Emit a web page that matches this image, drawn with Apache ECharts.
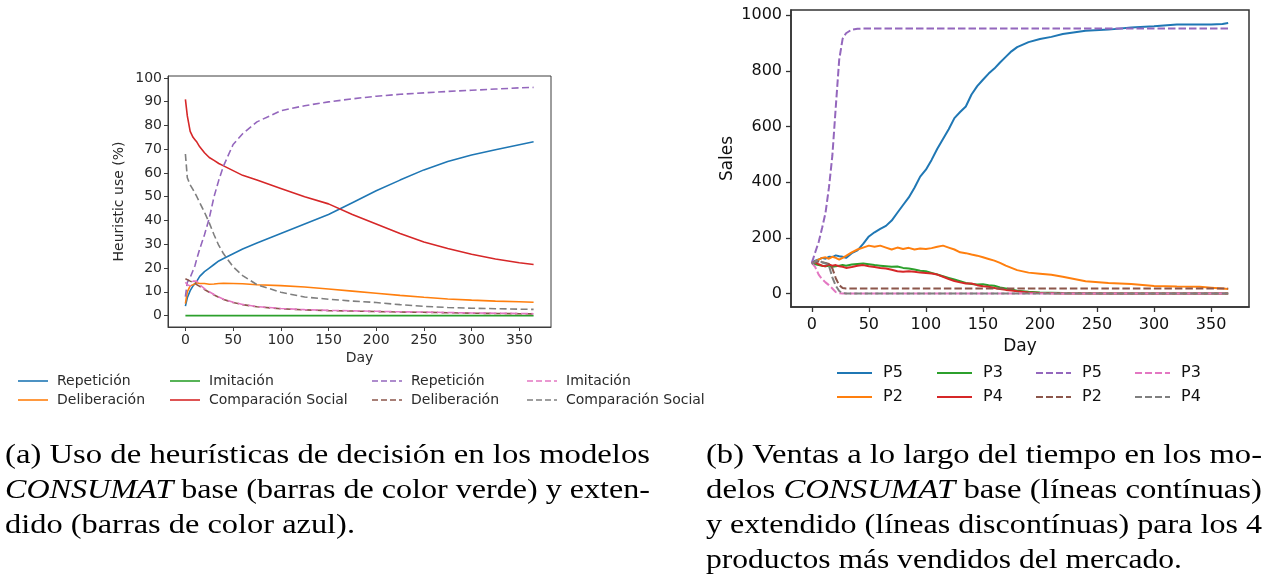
<!DOCTYPE html>
<html>
<head>
<meta charset="utf-8">
<script src="https://cdn.jsdelivr.net/npm/echarts@6/dist/echarts.min.js"></script>
<style>
html, body { margin: 0; padding: 0; background: #ffffff; }
#chart { width: 1273px; height: 580px; }
</style>
</head>
<body>
<div id="chart"></div>
<script>
// ---- (a) heuristic use, percent of agents per day ----
const heurDays = [0, 2, 5, 8, 10, 12, 15, 20, 25, 30, 35, 40, 50, 60, 75, 100, 125, 150, 175, 200, 225, 250, 275, 300, 325, 350, 365];
const heurBaseRepeticion = [4, 7.5, 10.5, 12.5, 13.5, 14.5, 16.5, 18.5, 20, 21.5, 23, 24, 26, 28, 30.5, 34.5, 38.5, 42.5, 47.5, 52.5, 57, 61.3, 64.8, 67.6, 69.8, 71.9, 73.1];
const heurBaseDeliberacion = [5, 10, 12.5, 13, 13.5, 13.8, 13.5, 13.5, 13.2, 13.3, 13.5, 13.6, 13.5, 13.4, 13, 12.6, 12, 11.2, 10.3, 9.4, 8.5, 7.7, 7, 6.5, 6.1, 5.8, 5.6];
const heurBaseImitacion = [0, 0, 0, 0, 0, 0, 0, 0, 0, 0, 0, 0, 0, 0, 0, 0, 0, 0, 0, 0, 0, 0, 0, 0, 0, 0, 0];
const heurBaseComparacion = [91, 84, 77.5, 75, 74, 73, 71, 68.5, 66.5, 65.3, 64, 63, 61, 59, 57, 53.5, 50, 47, 42.5, 38.5, 34.5, 31, 28.2, 25.8, 23.8, 22.2, 21.5];
const heurExtRepeticion = [8, 14, 16, 19, 21, 24, 28, 34, 41, 50, 57, 63, 72, 76.5, 81.5, 86.2, 88.3, 89.9, 91.2, 92.3, 93.1, 93.7, 94.3, 94.8, 95.3, 95.8, 96];
const heurExtDeliberacion = [15.5, 15, 14.5, 14, 13.5, 13, 12.3, 11, 9.8, 8.7, 7.7, 6.8, 5.5, 4.6, 3.7, 2.9, 2.4, 2.1, 1.9, 1.7, 1.5, 1.4, 1.2, 1.0, 0.9, 0.8, 0.7];
const heurExtImitacion = [14, 13, 12.5, 14.5, 15, 14.5, 13, 11.3, 10, 8.9, 7.8, 6.9, 5.6, 4.7, 3.8, 3.0, 2.5, 2.2, 2.0, 1.8, 1.6, 1.5, 1.3, 1.1, 1.0, 0.9, 0.8];
const heurExtComparacion = [68, 58, 55, 53, 51.5, 50, 47.5, 43.5, 39, 34, 29.5, 26, 20.5, 16.8, 13, 9.8, 7.8, 6.9, 6.1, 5.5, 4.6, 3.9, 3.4, 3.1, 2.9, 2.7, 2.6];

// ---- (b) daily sales of the four best-selling products ----
const salesDays = [0, 3, 6, 9, 12, 15, 18, 21, 24, 27, 30,
  35, 40, 45, 50, 55, 60, 65, 70, 75, 80, 85, 90, 95, 100, 105, 110, 115, 120, 125, 130,
  135, 140, 145, 150, 155, 160, 165, 170, 175, 180,
  190, 200, 210, 220, 240, 260, 280, 300, 320, 340, 350, 360, 365];
const salesBaseP5 = [110, 118, 122, 128, 125, 132, 131, 137, 134, 132, 128,
  145, 155, 178, 205, 220, 232, 243, 262, 290, 318, 345, 380, 420, 445, 480, 520, 555, 590, 630, 652,
  672, 715, 745, 768, 790, 808, 830, 850, 870, 885,
  903, 914, 922, 932, 944, 948, 956, 960, 966, 966, 966, 968, 972];
const salesBaseP2 = [110, 115, 122, 128, 130, 125, 132, 128, 122, 128, 135,
  148, 158, 165, 172, 168, 172, 165, 158, 165, 160, 164, 158, 162, 160, 163, 168, 172, 165, 158, 148,
  145, 140, 136, 130, 124, 118, 110, 100, 92, 84,
  75, 71, 67, 60, 44, 38, 34, 27, 25, 24, 21, 18, 16];
const salesBaseP3 = [110, 105, 102, 100, 98, 100, 96, 98, 100, 102, 100,
  104, 106, 108, 105, 102, 100, 98, 96, 97, 92, 90, 86, 82, 80, 74, 68, 62, 56, 50, 44,
  38, 34, 32, 33, 30, 28, 22, 18, 14, 10,
  6, 4, 3, 2, 1, 0, 0, 0, 0, 0, 0, 0, 0];
const salesBaseP4 = [110, 112, 105, 100, 98, 104, 100, 102, 98, 96, 92,
  95, 100, 102, 98, 95, 92, 90, 85, 80, 78, 80, 78, 75, 74, 72, 68, 60, 52, 45, 40,
  36, 36, 30, 26, 24, 20, 16, 13, 11, 8,
  4, 2, 1, 0, 0, 0, 0, 0, 0, 0, 0, 0, 0];
const salesExtP5 = [110, 148, 185, 235, 290, 380, 495, 670, 840, 915, 935,
  948, 951, 952, 952, 952, 952, 952, 952, 952, 952, 952, 952, 952, 952, 952, 952, 952, 952, 952, 952,
  952, 952, 952, 952, 952, 952, 952, 952, 952, 952,
  952, 952, 952, 952, 952, 952, 952, 952, 952, 952, 952, 952, 952];
const salesExtP2 = [110, 112, 115, 112, 110, 106, 90, 55, 30, 20, 18,
  18, 18, 18, 18, 18, 18, 18, 18, 18, 18, 18, 18, 18, 18, 18, 18, 18, 18, 18, 18,
  18, 18, 18, 18, 18, 18, 18, 18, 18, 18,
  18, 18, 18, 18, 18, 18, 18, 18, 18, 18, 18, 18, 18];
const salesExtP3 = [110, 95, 68, 52, 40, 30, 18, 5, 1, 0, 0,
  0, 0, 0, 0, 0, 0, 0, 0, 0, 0, 0, 0, 0, 0, 0, 0, 0, 0, 0, 0,
  0, 0, 0, 0, 0, 0, 0, 0, 0, 0,
  0, 0, 0, 0, 0, 0, 0, 0, 0, 0, 0, 0, 0];
const salesExtP4 = [105, 115, 120, 112, 108, 100, 58, 28, 9, 2, 0,
  0, 0, 0, 0, 0, 0, 0, 0, 0, 0, 0, 0, 0, 0, 0, 0, 0, 0, 0, 0,
  0, 0, 0, 0, 0, 0, 0, 0, 0, 0,
  0, 0, 0, 0, 0, 0, 0, 0, 0, 0, 0, 0, 0];

// ---- tick labels ----
const dayTicks = [0, 50, 100, 150, 200, 250, 300, 350];
const heurTicks = [0, 10, 20, 30, 40, 50, 60, 70, 80, 90, 100];
const salesTicks = [0, 200, 400, 600, 800, 1000];

// ---- captions (runs of [text, style]; 'i' = italic) ----
const captionA = [
  [['(a) Uso de heurísticas de decisión en los modelos', 'n']],
  [['CONSUMAT', 'i'], [' base (barras de color verde) y exten-', 'n']],
  [['dido (barras de color azul).', 'n']]
];
const captionB = [
  [['(b) Ventas a lo largo del tiempo en los mo-', 'n']],
  [['delos ', 'n'], ['CONSUMAT', 'i'], [' base (líneas contínuas)', 'n']],
  [['y extendido (líneas discontínuas) para los 4', 'n']],
  [['productos más vendidos del mercado.', 'n']]
];

const C = {
  blue: '#1f77b4', orange: '#ff7f0e', green: '#2ca02c', red: '#d62728',
  purple: '#9467bd', brown: '#8c564b', pink: '#e377c2', grey: '#7f7f7f'
};

const heurLines = [
  { name: 'Repetición', values: heurBaseRepeticion, color: C.blue, dashed: false },
  { name: 'Deliberación', values: heurBaseDeliberacion, color: C.orange, dashed: false },
  { name: 'Imitación', values: heurBaseImitacion, color: C.green, dashed: false },
  { name: 'Comparación Social', values: heurBaseComparacion, color: C.red, dashed: false },
  { name: 'Repetición', values: heurExtRepeticion, color: C.purple, dashed: true },
  { name: 'Deliberación', values: heurExtDeliberacion, color: C.brown, dashed: true },
  { name: 'Imitación', values: heurExtImitacion, color: C.pink, dashed: true },
  { name: 'Comparación Social', values: heurExtComparacion, color: C.grey, dashed: true }
];
const salesLines = [
  { name: 'P5', values: salesBaseP5, color: C.blue, dashed: false },
  { name: 'P2', values: salesBaseP2, color: C.orange, dashed: false },
  { name: 'P3', values: salesBaseP3, color: C.green, dashed: false },
  { name: 'P4', values: salesBaseP4, color: C.red, dashed: false },
  { name: 'P5', values: salesExtP5, color: C.purple, dashed: true },
  { name: 'P2', values: salesExtP2, color: C.brown, dashed: true },
  { name: 'P3', values: salesExtP3, color: C.pink, dashed: true },
  { name: 'P4', values: salesExtP4, color: C.grey, dashed: true }
];

const FONT = 'DejaVu Sans';
const SERIF = 'Liberation Serif';

function pairs(days, vals) { return days.map((d, i) => [d, vals[i]]); }

function makeSeries(lines, days, idx, width, dash) {
  return lines.map(l => ({
    type: 'line', name: l.name, xAxisIndex: idx, yAxisIndex: idx,
    data: pairs(days, l.values), showSymbol: false, symbol: 'none',
    silent: true, animation: false,
    lineStyle: { color: l.color, width: width, type: l.dashed ? dash : 'solid', cap: 'butt' },
    itemStyle: { color: l.color }
  }));
}

function valueAxis(idx, min, max, ticks, o) {
  return {
    gridIndex: idx, type: 'value', min: min, max: max,
    axisLine: { show: true, onZero: false, lineStyle: { color: o.line, width: o.axisWidth } },
    splitLine: { show: false },
    axisTick: { show: true, inside: false, customValues: ticks, length: o.tick, lineStyle: { color: o.line, width: o.tickWidth } },
    axisLabel: { customValues: ticks, fontSize: o.font, fontFamily: FONT, color: o.text, margin: o.margin,
      formatter: v => String(v) },
    name: o.name, nameLocation: 'middle', nameGap: o.nameGap,
    nameTextStyle: { fontSize: o.nameFont, fontFamily: FONT, color: o.text }
  };
}

// legend drawn as graphic rows: column-major, 4 columns x 2 rows
function legendGraphics(lines, cols, rows, lineLen, textGap, width, dash, font, color) {
  const out = [];
  lines.forEach((l, i) => {
    const x = cols[Math.floor(i / 2)];
    const y = rows[i % 2];
    out.push({
      type: 'line', silent: true,
      shape: { x1: x, y1: y, x2: x + lineLen, y2: y },
      style: { stroke: l.color, lineWidth: width, lineDash: l.dashed ? dash : null }
    });
    out.push({
      type: 'text', silent: true, x: x + lineLen + textGap, y: y,
      style: { text: l.name, fontSize: font, fontFamily: FONT, fill: color, verticalAlign: 'middle', align: 'left' }
    });
  });
  return out;
}

// caption lines are stretched horizontally to their typeset width
const measureCtx = document.createElement('canvas').getContext('2d');
function runWidth(runs, font) {
  return runs.reduce((w, r) => {
    measureCtx.font = (r[1] === 'i' ? 'italic ' : '') + font + 'px "' + SERIF + '"';
    return w + measureCtx.measureText(r[0]).width;
  }, 0);
}
function captionGraphics(lines, widths, x, y0, lh, font) {
  return lines.map((runs, i) => ({
    type: 'text', silent: true, x: x, y: y0 + i * lh,
    scaleX: widths[i] / runWidth(runs, font),
    style: {
      text: runs.map(r => '{' + r[1] + '|' + r[0] + '}').join(''),
      verticalAlign: 'middle', align: 'left',
      rich: {
        n: { fontSize: font, fontFamily: SERIF, fill: '#000', fontStyle: 'normal' },
        i: { fontSize: font, fontFamily: SERIF, fill: '#000', fontStyle: 'italic' }
      }
    }
  }));
}

const chart = echarts.init(document.getElementById('chart'), null, { renderer: 'canvas' });

const leftAxisStyle = { tick: 4, line: '#3c3c3c', axisWidth: 1, tickWidth: 1, font: 14, text: '#2a2a2a', margin: 6 };
const rightAxisStyle = { tick: 5, line: '#333333', axisWidth: 1.5, tickWidth: 1.3, font: 16, text: '#111', margin: 10 };

const option = {
  animation: false,
  backgroundColor: '#ffffff',
  grid: [
    { left: 168, top: 76, width: 383, height: 251, show: true, borderColor: '#3c3c3c', borderWidth: 1, backgroundColor: 'transparent' },
    { left: 791, top: 10, width: 458, height: 297, show: true, borderColor: '#333333', borderWidth: 1.5, backgroundColor: 'transparent' }
  ],
  xAxis: [
    valueAxis(0, -18.25, 383.25, dayTicks, Object.assign({}, leftAxisStyle, { name: 'Day', nameGap: 24, nameFont: 14 })),
    valueAxis(1, -18.25, 383.25, dayTicks, Object.assign({}, rightAxisStyle, { name: 'Day', nameGap: 31, nameFont: 17 }))
  ],
  yAxis: [
    valueAxis(0, -4.8, 100.8, heurTicks, Object.assign({}, leftAxisStyle, { name: 'Heuristic use (%)', nameGap: 42, nameFont: 14 })),
    valueAxis(1, -48.5, 1018.5, salesTicks, Object.assign({}, rightAxisStyle, { margin: 9, name: 'Sales', nameGap: 55, nameFont: 17 }))
  ],
  series: [].concat(
    makeSeries(heurLines, heurDays, 0, 1.6, [7, 3.5]),
    makeSeries(salesLines, salesDays, 1, 2, [7.5, 3])
  ),
  graphic: [].concat(
    legendGraphics(heurLines, [18, 170, 372, 527], [381, 400], 30, 9, 1.6, [6, 3], 14, '#2a2a2a'),
    legendGraphics(salesLines, [837, 937, 1036, 1135], [373, 397], 35, 11, 2, [7, 3], 16, '#111'),
    captionGraphics(captionA, [645, 645, 350], 5, 456, 35, 28),
    captionGraphics(captionB, [556, 556, 556, 476], 706, 456, 35, 28)
  )
};

chart.setOption(option);
</script>
</body>
</html>
